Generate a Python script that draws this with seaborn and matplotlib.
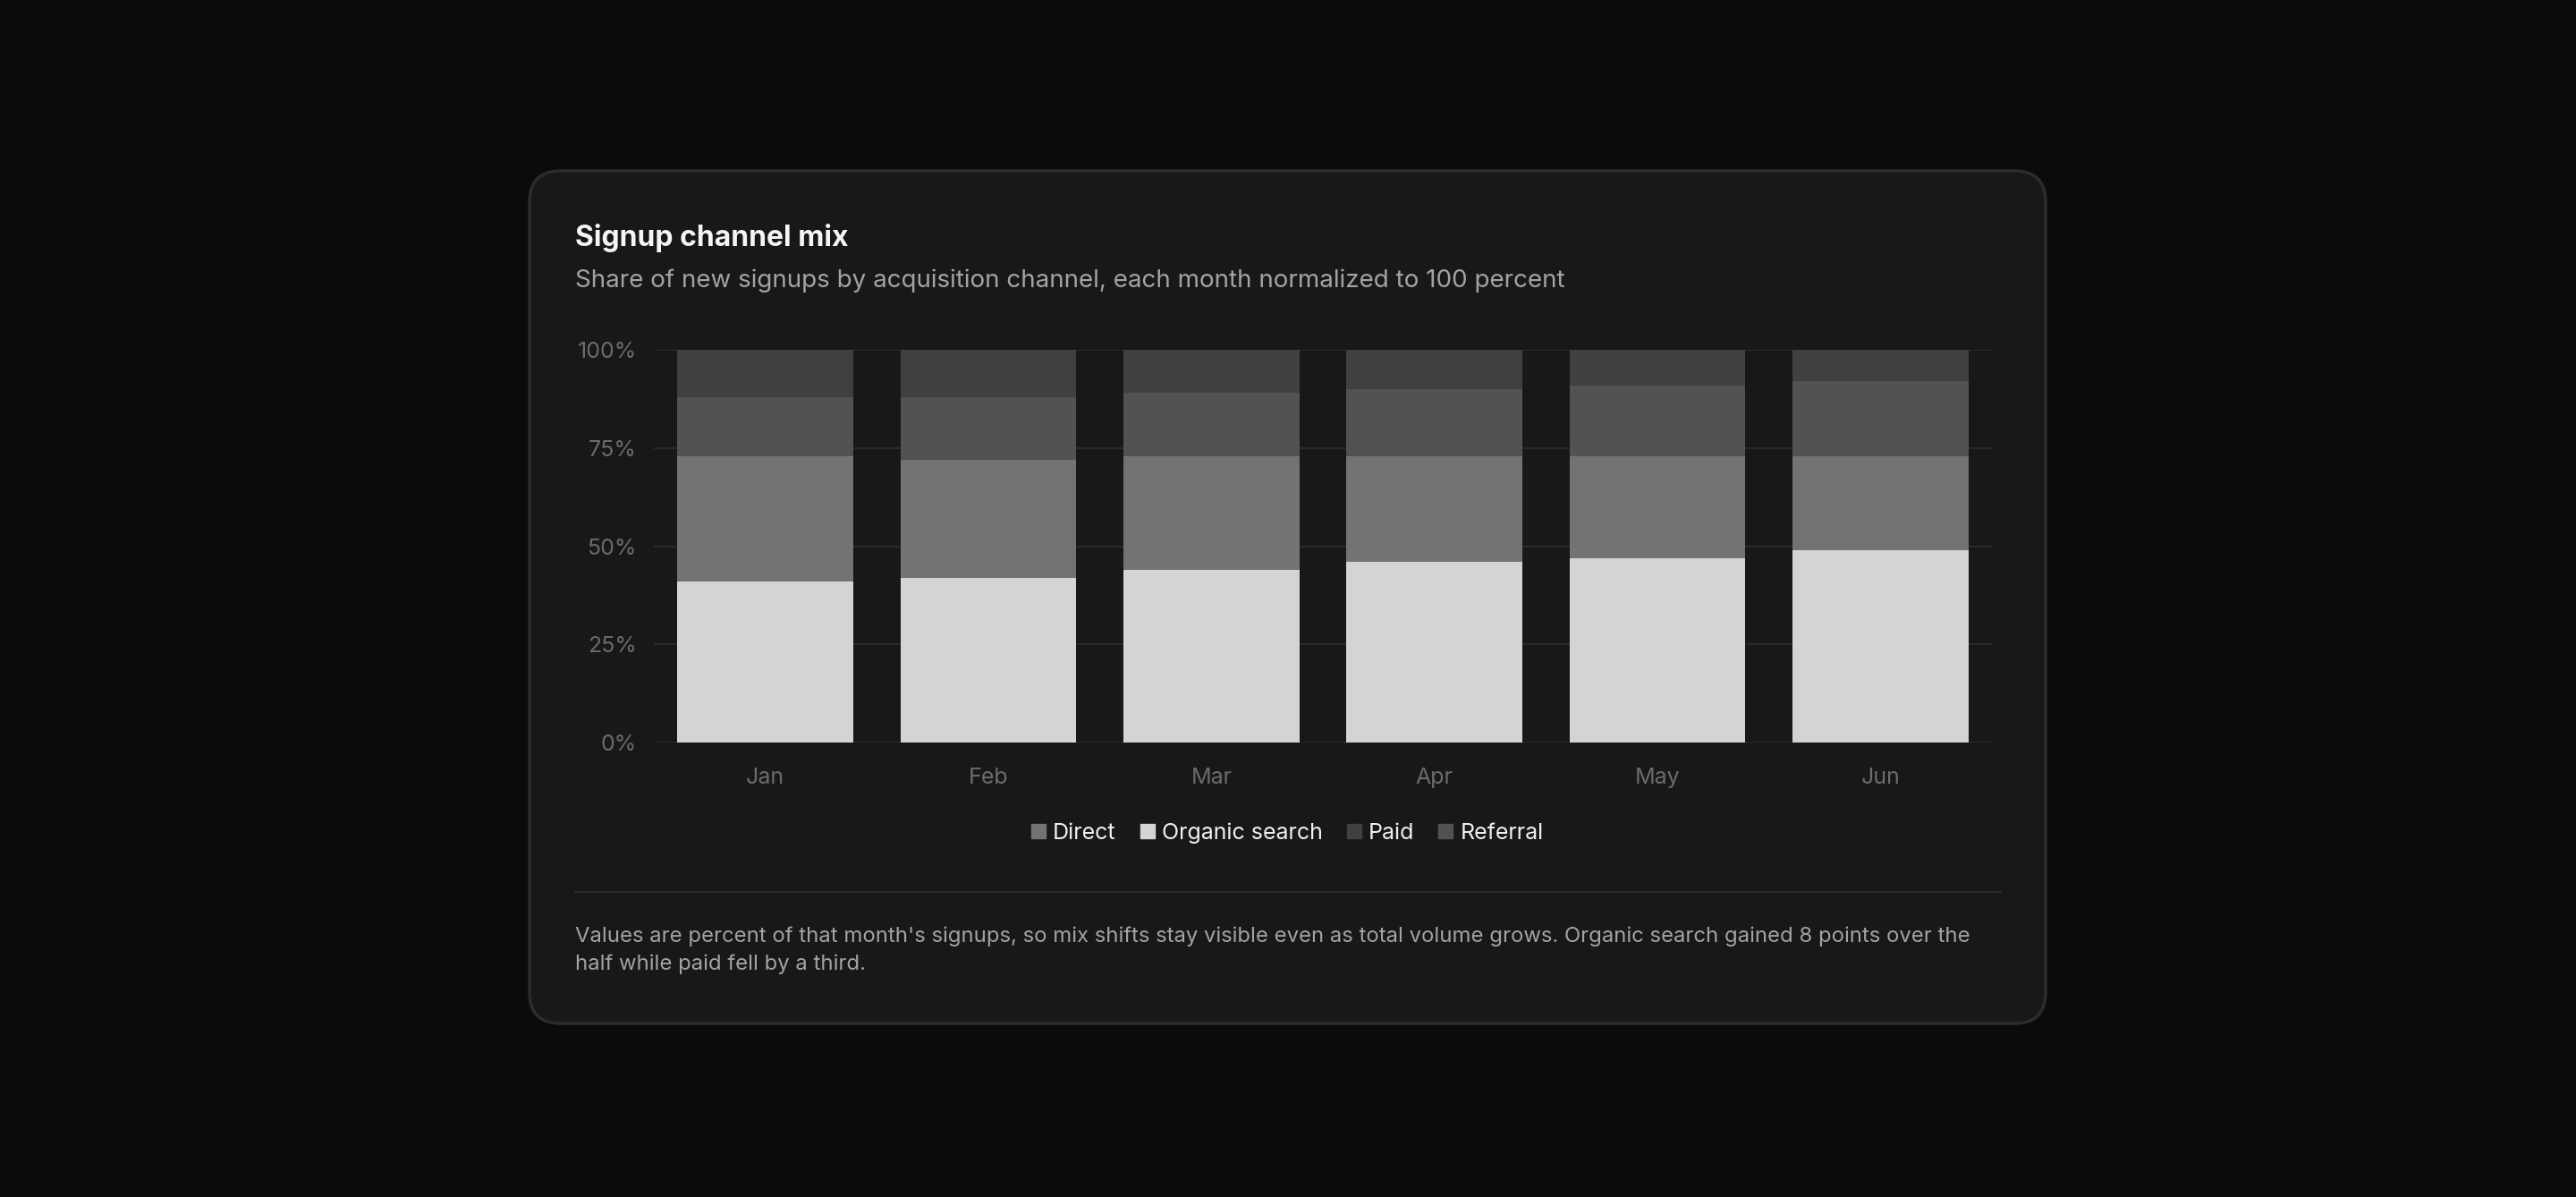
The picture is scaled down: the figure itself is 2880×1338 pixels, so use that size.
import matplotlib
matplotlib.use("Agg")
import matplotlib.pyplot as plt
import seaborn as sns
import pandas as pd
import numpy as np
from matplotlib.patches import FancyBboxPatch, Patch
from matplotlib.lines import Line2D

months = ["Jan", "Feb", "Mar", "Apr", "May", "Jun"]
organic = [41, 42, 44, 46, 47, 49]
direct = [32, 30, 29, 27, 26, 24]
referral = [15, 16, 16, 17, 18, 19]
paid = [12, 12, 11, 10, 9, 8]
yticks = [0, 25, 50, 75, 100]
ytick_labels = ["0%", "25%", "50%", "75%", "100%"]

colors = {"Direct": "#737373", "Organic search": "#d4d4d4", "Paid": "#404040", "Referral": "#525252"}

sns.set_style("dark")
plt.rcParams["font.family"] = ["Inter", "DejaVu Sans"]

W, H = 2880, 1338
fig = plt.figure(figsize=(W / 100, H / 100), dpi=100, facecolor="#0b0b0b")

card = FancyBboxPatch((592 / W, 1 - 1144 / H), (2287 - 592) / W, (1144 - 191) / H,
                      boxstyle="round,pad=0,rounding_size=0.012", transform=fig.transFigure,
                      facecolor="#181818", edgecolor="#2c2c2c", linewidth=2.5, zorder=-10,
                      mutation_aspect=W / H)
fig.patches.append(card)

ax = fig.add_axes([731 / W, 1 - 830 / H, (2227 - 731) / W, (830 - 391) / H])
ax.set_zorder(5)
ax.set_facecolor("#181818")

df = pd.DataFrame({"month": months, "organic": organic, "direct": direct,
                   "referral": referral, "paid": paid})
df["t1"] = df["organic"]
df["t2"] = df["t1"] + df["direct"]
df["t3"] = df["t2"] + df["referral"]
df["t4"] = df["t3"] + df["paid"]

for col, c in [("t4", colors["Paid"]), ("t3", colors["Referral"]),
               ("t2", colors["Direct"]), ("t1", colors["Organic search"])]:
    sns.barplot(data=df, x="month", y=col, color=c, width=0.79, saturation=1,
                ax=ax, linewidth=0, zorder=3)

ax.set_ylim(0, 100)
ax.set_xlim(-0.5, 5.5)
ax.set_yticks(yticks)
ax.set_yticklabels(ytick_labels)
ax.set_xlabel("")
ax.set_ylabel("")
ax.grid(axis="y", color="#2a2a2a", linewidth=1.5, zorder=0)
ax.grid(axis="x", visible=False)
ax.set_axisbelow(True)
for s in ax.spines.values():
    s.set_visible(False)
ax.tick_params(axis="both", length=0, colors="#6b6b6b", labelsize=18)
ax.tick_params(axis="x", pad=20)
ax.tick_params(axis="y", pad=14)

fig.text(643 / W, 1 - 266 / H, "Signup channel mix", color="#f5f5f5", fontsize=23,
         fontweight="bold", va="center", ha="left")
fig.text(643 / W, 1 - 314 / H,
         "Share of new signups by acquisition channel, each month normalized to 100 percent",
         color="#a3a3a3", fontsize=20, va="center", ha="left")

handles = [Line2D([], [], marker="s", linestyle="", markersize=11, markerfacecolor=colors[k],
                  markeredgecolor=colors[k]) for k in ["Direct", "Organic search", "Paid", "Referral"]]
leg = fig.legend(handles, ["Direct", "Organic search", "Paid", "Referral"], loc="center",
                 bbox_to_anchor=(0.4994, 1 - 931 / H), ncol=4, frameon=False, fontsize=18,
                 handletextpad=0.25, columnspacing=1.0, handlelength=0.8)
for t in leg.get_texts():
    t.set_color("#f0f0f0")

fig.add_artist(Line2D([643 / W, 2237 / W], [1 - 997 / H, 1 - 997 / H], transform=fig.transFigure,
                      color="#2c2c2c", linewidth=1.5))
fig.text(643 / W, 1 - 1047 / H,
         "Values are percent of that month's signups, so mix shifts stay visible even as total volume grows. Organic search gained 8 points over the",
         color="#a3a3a3", fontsize=17.2, va="center", ha="left")
fig.text(643 / W, 1 - 1078 / H, "half while paid fell by a third.",
         color="#a3a3a3", fontsize=17.2, va="center", ha="left")

fig.savefig("out.png", dpi=100, facecolor=fig.get_facecolor())
